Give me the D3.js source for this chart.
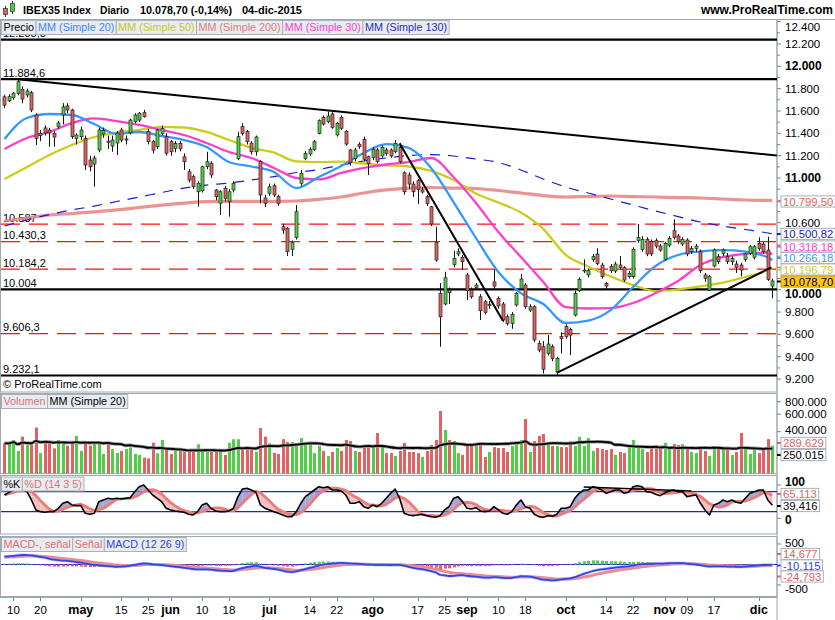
<!DOCTYPE html>
<html><head><meta charset="utf-8">
<script src="https://cdn.jsdelivr.net/npm/d3@7"></script>
<style>body{margin:0;background:#fff}svg{display:block;font-family:"Liberation Sans",Arial,sans-serif}</style>
</head><body><svg id="c" width="835" height="620"></svg>
<script>
// ---------------- DATA ----------------
const firstDay = "2015-04-08", lastDay = "2015-12-04", holidays = ["2015-05-01"];
const open = [11727,11690,11720,11758,11794,11743,11764,11564,11380,11448,11430,11400,11460,11564,11645,11609,11355,11370,11355,11161,11125,11251,11394,11330,11286,11313,11430,11340,11405,11504,11519,11585,11415,11325,11280,11400,11370,11325,11265,11310,11190,11056,11012,10877,10886,11101,11132,10893,10774,10908,10788,10893,11176,11460,11415,11313,11235,11146,10821,10863,10931,10833,10564,10550,10362,10469,10953,11176,11215,11257,11400,11543,11504,11573,11385,11543,11415,11251,11176,11302,11346,11190,11185,11251,11197,11251,11251,11235,11275,11047,11027,10946,10976,10875,10833,10743,10421,9968,9872,9997,10227,10320,10290,10132,9997,10020,9937,9892,9860,10070,9923,9872,9758,9699,9863,10012,10042,9818,9848,9520,9490,9430,9490,9266,9580,9670,9645,9773,9991,10170,10132,10272,10320,10221,10057,10210,10167,10221,10197,10117,10117,10440,10360,10451,10430,10439,10391,10272,10400,10528,10481,10409,10445,10340,10370,10340,10132,9997,10212,10296,10325,10296,10251,10230,10221,10272,10326,10290,10415,10409,10355,10033];
const high = [11745,11750,11770,11884.6,11820,11800,11780,11580,11430,11470,11450,11420,11510,11670,11670,11620,11400,11460,11380,11200,11200,11450,11450,11380,11380,11420,11450,11380,11530,11580,11590,11610,11440,11340,11440,11470,11400,11340,11330,11330,11220,11080,11030,10970,11110,11235,11150,10900,10890,10930,10900,10970,11415,11490,11430,11330,11380,11160,10850,10950,10950,10850,10590,10560,10440,10758,11072,11240,11275,11340,11525,11560,11594,11590,11500,11560,11430,11260,11270,11320,11370,11200,11275,11270,11290,11270,11265,11340,11310,11060,11050,10970,10990,10920,10850,10750,10564,10060,10161,10020,10349,10370,10310,10150,10020,10060,9960,9910,9900,10182,9940,9890,9780,9800,9980,10141,10060,9870,9860,9545,9540,9594,9510,9400,9620,9690,9660,9990,10110,10272,10190,10320,10371,10240,10070,10230,10250,10302,10210,10170,10380,10588,10480,10470,10450,10460,10410,10430,10480,10630,10500,10470,10460,10390,10410,10360,10150,10130,10370,10320,10370,10330,10300,10260,10240,10330,10400,10400,10469,10430,10475,10100];
const low = [11627,11680,11700,11740,11669,11720,11590,11295,11330,11380,11280,11280,11440,11480,11580,11350,11300,11340,11072,11060,10922,11230,11360,11260,11235,11206,11320,11300,11390,11490,11500,11540,11300,11220,11260,11380,11200,11200,11230,11240,11072,10960,10900,10743,10870,11080,11000,10800,10669,10790,10654,10870,11160,11380,11300,11210,11200,10773,10740,10840,10830,10750,10500,10302,10302,10450,10930,11160,11195,11240,11390,11470,11490,11440,11370,11430,11290,11110,11150,11260,11150,11027,11160,11130,11180,11200,11180,11220,11130,10850,10900,10830,10767,10860,10750,10570,10250,9490,9860,9872,10200,10300,10176,9908,9920,10000,9729,9780,9830,10010,9830,9710,9680,9650,9850,10000,9830,9800,9530,9440,9250,9410,9360,9232.1,9430,9560,9415,9760,9980,10150,10110,10250,10220,10100,10000,10150,10150,10180,10070,10100,10100,10420,10340,10300,10300,10370,10340,10260,10380,10450,10410,10390,10300,10320,10340,10150,10070,9990,10200,10230,10300,10230,10220,10150,10120,10250,10310,10270,10350,10320,10080,9923];
const close = [11652,11728,11760,11862,11707,11779,11609,11355,11400,11403,11403,11367,11492,11636,11609,11370,11385,11430,11116,11100,11179,11430,11425,11320,11340,11403,11340,11350,11519,11564,11580,11550,11325,11250,11430,11445,11222,11235,11310,11265,11146,10982,10922,10953,11101,11146,11027,10833,10877,10818,10877,10953,11370,11400,11325,11235,11367,10848,10773,10922,10848,10773,10534,10340,10421,10698,11042,11221,11257,11325,11513,11483,11555,11454,11490,11445,11304,11137,11251,11280,11167,11130,11257,11146,11275,11221,11197,11310,11146,10877,10946,10877,10899,10893,10773,10588,10266,9758,10107,9973,10281,10340,10251,9991,9937,10042,9812,9798,9870,10033,9854,9729,9699,9779,9968,10096,9848,9848,9550,9460,9288,9514,9386,9386,9562,9580,9594,9968,10093,10176,10170,10296,10236,10117,10033,10170,10230,10200,10087,10147,10362,10469,10450,10320,10320,10391,10355,10415,10460,10469,10430,10451,10320,10370,10390,10170,10102,10117,10355,10251,10355,10251,10281,10200,10176,10320,10385,10385,10370,10340,10093,10078.7];
const volume = [306,306,330,256,357,294,294,440,245,330,306,272,330,306,290,310,362,256,318,290,318,310,239,299,268,245,256,268,278,239,234,220,216,310,243,330,266,239,272,262,252,256,252,299,262,262,262,252,252,234,310,336,336,272,282,282,252,435,357,306,245,239,337,315,315,308,345,308,294,244,287,256,228,250,274,256,330,322,256,250,294,287,287,388,287,244,244,228,256,308,250,250,244,223,256,294,330,646,416,330,322,244,234,294,294,308,315,223,250,280,274,274,250,287,308,330,536,250,322,362,379,315,287,287,280,280,322,287,355,287,345,256,274,268,262,268,234,250,244,280,330,274,268,250,274,294,274,308,274,300,294,300,268,250,244,287,256,228,268,274,274,262,234,250,388,280,239,274,244,262,337,289.629].map(v=>v*1000);
// moving averages read at every 5th session (plus the last one)
const maIdx = d3.range(0,171,5).concat([171]);
const ma20  = [11349,11537,11573,11564,11483,11394,11412,11376,11340,11278,11143,11103,11054,10910,11009,11107,11224,11304,11269,11090,10785,10463,10158,9970,9872,9702,9724,9818,10024,10212,10311,10342,10355,10342,10288,10266.18];
const ma30  = [11260,11358,11412,11492,11533,11510,11475,11430,11385,11313,11233,11179,11090,11000,10987,11045,11090,11121,11143,11179,11009,10776,10517,10293,10069,9845,9832,9836,9881,9970,10078,10221,10293,10320,10333,10318.18];
const ma50  = [10991,11098,11206,11295,11367,11407,11430,11457,11452,11412,11340,11269,11228,11148,11143,11146,11130,11114,11103,11063,10982,10861,10781,10691,10543,10311,10208,10118,10042,9988,10002,10029,10064,10114,10176,10196.79];
const ma130 = [10570,10624,10673,10714,10749,10790,10830,10870,10910,10937,10955,10982,11013,11049,11076,11116,11152,11179,11201,11210,11197,11170,11139,11072,10991,10919,10866,10812,10758,10705,10655,10606,10570,10539,10508,10500.82];
const ma200 = [10615,10642,10669,10682,10696,10714,10736,10758,10776,10788,10790,10790,10790,10794,10808,10830,10866,10893,10910,10915,10910,10906,10888,10866,10843,10830,10834,10839,10834,10830,10825,10821,10812,10803,10800,10799.5];
const stochK = [70,78,85,95,85,80,55,25,20,18,20,20,30,45,50,40,38,38,15,12,15,50,55,60,58,60,58,60,62,80,95,100,85,70,60,50,30,25,22,20,18,12,10,20,40,45,30,22,20,20,22,30,65,88,90,85,78,40,30,25,20,15,10,5,5,20,45,65,75,85,95,92,95,85,85,82,70,45,45,50,35,30,40,35,45,60,75,88,60,15,10,8,10,12,8,5,3,8,25,35,60,65,50,30,28,32,22,20,22,35,25,15,12,20,40,55,35,30,12,5,3,8,6,12,30,30,35,60,75,85,85,95,92,85,75,80,85,85,75,78,95,98,95,80,78,72,68,75,82,85,80,80,65,68,70,45,25,10,40,45,55,50,55,48,45,60,75,80,85,85,55,39.416];
const macd = [190,200,210,225,232,230,222,205,185,165,140,120,105,95,90,75,60,45,25,5,-10,-20,-30,-40,-48,-55,-50,-45,-30,-10,10,25,20,5,-5,-10,-25,-40,-55,-65,-80,-95,-110,-120,-120,-118,-125,-140,-150,-155,-160,-155,-120,-90,-65,-45,-30,-55,-80,-95,-110,-125,-150,-175,-185,-170,-140,-110,-80,-55,-25,-5,15,25,35,40,35,25,20,15,5,-5,-5,-10,-10,-10,-12,-8,-10,-30,-55,-80,-100,-115,-135,-160,-190,-250,-265,-280,-275,-265,-260,-275,-290,-295,-310,-320,-320,-310,-315,-325,-330,-325,-310,-285,-290,-295,-320,-345,-370,-375,-385,-380,-365,-350,-340,-310,-270,-230,-195,-160,-135,-120,-105,-90,-75,-62,-55,-45,-25,-5,10,15,18,20,20,25,30,35,35,35,20,10,0,-15,-35,-50,-45,-48,-45,-50,-52,-55,-58,-50,-40,-30,-20,-12,-8,-10.115];
const signalSeed = 175;
// horizontal levels and trend lines
const levels = [
  {v:12238.8, t:"12.238,8", kind:"solid"},
  {v:11884.6, t:"11.884,6", kind:"solid"},
  {v:10587,   t:"10.587",   kind:"dash"},
  {v:10430.3, t:"10.430,3", kind:"dash"},
  {v:10184.2, t:"10.184,2", kind:"dash"},
  {v:10004,   t:"10.004",   kind:"solid"},
  {v:9606.3,  t:"9.606,3",  kind:"dash"},
  {v:9232.1,  t:"9.232,1",  kind:"solid"}];
const trendLines = [[3,11884.6,172,11201],[88,11311,111,9722],[123,9255,170.8,10200]];
const stochTrend = [129,94,153,82];
const tickDates = ["2015-04-10","2015-04-20","2015-05-04","2015-05-15","2015-05-25","2015-06-01","2015-06-10","2015-06-18","2015-07-01","2015-07-14","2015-07-22","2015-08-03","2015-08-17","2015-08-25","2015-09-01","2015-09-10","2015-09-18","2015-10-01","2015-10-14","2015-10-22","2015-11-02","2015-11-09","2015-11-17","2015-12-01"];
const tickText  = ["10","20","may","15","25","jun","10","18","jul","14","22","ago","17","25","sep","10","18","oct","14","22","nov","09","17","dic"];

// ---------------- SETUP ----------------
const fmt = d3.timeFormat("%Y-%m-%d"), parse = d3.timeParse("%Y-%m-%d");
const dates = d3.timeDay.range(parse(firstDay), d3.timeDay.offset(parse(lastDay),1))
  .filter(d => d.getDay()!==0 && d.getDay()!==6 && !holidays.includes(fmt(d)));
const N = dates.length;
const idx = d3.range(N);

const svg = d3.select("#c");
const AX = 777;
const x = d3.scaleLinear().domain([-1, N-1]).range([0, 772.3]);
const yP = d3.scaleLinear().domain([9200,12400]).range([379.1,21.6]);
const yV = d3.scaleLog().domain([154000,934000]).range([473,395]);
const yS = d3.scaleLinear().domain([0,100]).range([518.3,485]);
const yM = d3.scaleLinear().domain([-500,500]).range([585,544]);
const P = {main:[19.5,392], vol:[393.5,473.5], sto:[475.5,534], mac:[536.5,596.5]};
const borderC = "#9ea8b0";
const GREEN = "#4fcf45", RED = "#e06262";

const defs = svg.append("defs");
Object.entries(P).forEach(([k,[t,b]])=>{
  defs.append("clipPath").attr("id","clip-"+k).append("rect").attr("x",1).attr("y",t).attr("width",AX-1).attr("height",b-t);
});
defs.append("clipPath").attr("id","clip-below-legend").append("rect").attr("x",0).attr("y",34.6).attr("width",200).attr("height",20);

// frames
svg.append("line").attr("x1",0).attr("x2",835).attr("y1",19.5).attr("y2",19.5).attr("stroke",borderC);
Object.values(P).forEach(([t,b])=>{
  svg.append("rect").attr("x",0.5).attr("y",t).attr("width",AX-0.5).attr("height",b-t).attr("fill","#fff").attr("stroke",borderC);
});
svg.append("line").attr("x1",AX).attr("x2",AX).attr("y1",19.5).attr("y2",620).attr("stroke",borderC);
svg.append("line").attr("x1",0).attr("x2",AX).attr("y1",597.5).attr("y2",597.5).attr("stroke",borderC);

// header
const hdr = svg.append("g");
hdr.append("line").attr("x1",5.5).attr("x2",5.5).attr("y1",6).attr("y2",17).attr("stroke","#333");
hdr.append("rect").attr("x",3.5).attr("y",8.5).attr("width",4).attr("height",6).attr("fill",RED).attr("stroke","#333").attr("stroke-width",0.7);
hdr.append("line").attr("x1",12.5).attr("x2",12.5).attr("y1",1).attr("y2",14).attr("stroke","#333");
hdr.append("rect").attr("x",10.5).attr("y",3.5).attr("width",4).attr("height",8).attr("fill",GREEN).attr("stroke","#333").attr("stroke-width",0.7);
[["IBEX35 Index",23,68],["Diario",100,29],["10.078,70 (-0,14%)",140,92],["04-dic-2015",242,60]].forEach(([t,xx,w])=>{
  hdr.append("text").attr("x",xx).attr("y",14).attr("font-size",11.5).attr("font-weight","bold").attr("fill","#000")
    .attr("textLength",w).attr("lengthAdjust","spacingAndGlyphs").text(t);
});
svg.append("text").attr("x",833).attr("y",14).attr("text-anchor","end").attr("font-size",12).attr("font-weight","bold").text("www.ProRealTime.com");

// ---------------- MAIN PANEL ----------------
const gm = svg.append("g").attr("clip-path","url(#clip-main)");
levels.forEach((l,k)=>{
  const yy = yP(l.v);
  gm.append("line").attr("x1",1).attr("x2",AX).attr("y1",yy).attr("y2",yy)
    .attr("stroke", l.kind==="solid" ? "#000" : "#ff1010")
    .attr("stroke-width", l.kind==="solid" ? 2.2 : 1.3)
    .attr("stroke-dasharray", l.kind==="solid" ? null : "19,9");
  const tx = (k===0 ? svg.append("text").attr("clip-path","url(#clip-below-legend)") : gm.append("text"));
  tx.attr("x",3).attr("y",yy-2.5).attr("font-size",11).attr("fill","#000").text(l.t);
});

function maLine(vals, color, w, dash, op){
  const line = d3.line().x((d,k)=>x(maIdx[k])).y(d=>yP(d)).curve(d3.curveMonotoneX);
  gm.append("path").attr("d",line(vals)).attr("fill","none").attr("stroke",color)
    .attr("stroke-width",w).attr("stroke-dasharray",dash).attr("opacity",op||1).attr("stroke-linejoin","round");
}
maLine(ma200,"#e68080",3.2,null,0.85);
maLine(ma130,"#1a1acc",1.2,"10,8");
maLine(ma50,"#cccc1a",2.3);
maLine(ma30,"#ff3dcc",2.3);
maLine(ma20,"#3399ff",2.3);

// candles
const cx = i => Math.round(x(i))+0.5;
gm.selectAll("line.wick").data(idx).join("line").attr("class","wick")
  .attr("x1",cx).attr("x2",cx).attr("y1",i=>yP(high[i])).attr("y2",i=>yP(low[i]))
  .attr("stroke","#111").attr("stroke-width",1);
gm.selectAll("rect.body").data(idx).join("rect").attr("class","body")
  .attr("x",i=>cx(i)-1.5).attr("width",3)
  .attr("y",i=>yP(Math.max(open[i],close[i])))
  .attr("height",i=>Math.max(1,Math.abs(yP(open[i])-yP(close[i]))))
  .attr("fill",i=>close[i]>=open[i]?GREEN:RED).attr("stroke","#222").attr("stroke-width",0.7);

// trend lines
trendLines.forEach(([i1,p1,i2,p2])=>{
  gm.append("line").attr("x1",x(i1)).attr("y1",yP(p1)).attr("x2",x(i2)).attr("y2",yP(p2))
    .attr("stroke","#000").attr("stroke-width",2);
});
svg.append("text").attr("x",3).attr("y",388).attr("font-size",11).text("© ProRealTime.com");

// legend helper
function legend(y, items){
  let xx = 1.5;
  items.forEach(([t,c])=>{
    const g = svg.append("g");
    const r = g.append("rect");
    const tx = g.append("text").attr("x",xx+2).attr("y",y+10.5).attr("font-size",10.8).attr("fill",c).text(t);
    const w = tx.node().getComputedTextLength()+4;
    r.attr("x",xx).attr("y",y).attr("width",w).attr("height",14).attr("fill","#e8ecf0").attr("stroke","#a8b2ba");
    xx += w;
  });
}
legend(20.5,[["Precio","#000"],["MM (Simple 20)","#3d86ff"],["MM (Simple 50)","#c8c81e"],["MM (Simple 200)","#e07a7a"],["MM (Simple 30)","#ff40cc"],["MM (Simple 130)","#2a2ac0"]]);

// right axis helpers
function tick(y, len){ svg.append("line").attr("x1",AX).attr("x2",AX+len).attr("y1",y).attr("y2",y).attr("stroke","#7a848c"); }
function axLabel(y, t, bold){
  svg.append("text").attr("x",785).attr("y",y).attr("dy","0.35em").attr("font-size",bold?12:11.5)
    .attr("font-weight",bold?"bold":null).attr("fill","#000").text(t);
}
function valBox(cy, t, color, bg, stroke, mark){
  if(mark) svg.append("line").attr("x1",AX).attr("x2",AX+4).attr("y1",cy).attr("y2",cy).attr("stroke",mark).attr("stroke-width",2);
  const g = svg.append("g");
  const r = g.append("rect");
  const tx = g.append("text").attr("x",783).attr("y",cy).attr("dy","0.36em").attr("font-size",11.3).attr("fill",color).text(t);
  const w = tx.node().getComputedTextLength()+4;
  r.attr("x",781).attr("y",cy-5.6).attr("width",w).attr("height",11.2).attr("fill",bg||"#fff").attr("stroke",stroke||"#a8b2ba");
}
const nf = d3.format(",.0f");
const es = s => s.replace(/,/g,".");
const hiddenMain = [10800,10400,10200];
d3.range(9200,12401,100).forEach(v=>{
  const yy = yP(v);
  tick(yy, v%200===0?4:3);
  if(v%200===0 && !hiddenMain.includes(v)) axLabel(v===10000?293.5:Math.max(yy,27), es(nf(v)), v%1000===0);
});
valBox(201.5,"10.799,50","#e06060",null,null,"#e68080");
valBox(234,"10.500,82","#1a1acc",null,null,"#1a1acc");
valBox(246.5,"10.318,18","#ff3dcc",null,null,"#ff3dcc");
valBox(258,"10.266,18","#3399ff",null,null,"#3399ff");
valBox(269.5,"10.196,79","#c8c81e",null,null,"#cccc1a");
valBox(281.5,"10.078,70","#000","#ffc510","#c89a00","#000");

// ---------------- VOLUME ----------------
const gv = svg.append("g").attr("clip-path","url(#clip-vol)");
gv.selectAll("rect").data(idx).join("rect")
  .attr("x",i=>cx(i)-1.5).attr("width",3).attr("y",i=>yV(volume[i])).attr("height",i=>473.5-yV(volume[i]))
  .attr("fill",i=>close[i]>=open[i]?GREEN:RED);
const volMA = idx.map(i=>d3.mean(volume.slice(Math.max(0,i-19),i+1)));
const vline = d3.line().x((d,i)=>x(i)).y(d=>yV(d)).curve(d3.curveMonotoneX);
gv.append("path").attr("d",vline(volMA)).attr("fill","none").attr("stroke","#999").attr("stroke-width",3.5);
gv.append("path").attr("d",vline(volMA)).attr("fill","none").attr("stroke","#000").attr("stroke-width",1.8);
legend(394.5,[["Volumen","#e07070"],["MM (Simple 20)","#000"]]);
[[800000,"800.000"],[600000,"600.000"],[400000,"400.000"]].forEach(([v,t])=>{tick(yV(v),4); axLabel(v===400000?yV(v)-1.5:yV(v),t);});
valBox(443,"289.629","#e06060",null,null,"#e06060");
valBox(455,"250.015","#000",null,null,"#000");

// ---------------- STOCHASTIC ----------------
const gs = svg.append("g").attr("clip-path","url(#clip-sto)");
const stochD = idx.map(i=>d3.mean(stochK.slice(Math.max(0,i-4),i+1)));
[80,20].forEach(v=>gs.append("line").attr("x1",1).attr("x2",AX).attr("y1",yS(v)).attr("y2",yS(v)).attr("stroke","#2222cc").attr("stroke-width",1.2));
for(let i=0;i<N-1;i++){
  const a1=stochK[i]-stochD[i], a2=stochK[i+1]-stochD[i+1];
  const seg=(t0,t1)=>{
    const lerp=(arr,t)=>arr[i]+(arr[i+1]-arr[i])*t;
    return [[x(i+t0),yS(lerp(stochK,t0))],[x(i+t1),yS(lerp(stochK,t1))],[x(i+t1),yS(lerp(stochD,t1))],[x(i+t0),yS(lerp(stochD,t0))]];
  };
  const col=s=>s>=0?"#8a8ac6":"#f3aaaa";
  if(a1*a2<0){
    const t=a1/(a1-a2);
    gs.append("polygon").attr("points",seg(0,t).join(" ")).attr("fill",col(a1)).attr("opacity",0.75);
    gs.append("polygon").attr("points",seg(t,1).join(" ")).attr("fill",col(a2)).attr("opacity",0.75);
  } else {
    gs.append("polygon").attr("points",seg(0,1).join(" ")).attr("fill",col(a1+a2)).attr("opacity",0.75);
  }
}
const sline = d3.line().x((d,i)=>x(i)).y(d=>yS(d));
gs.append("path").attr("d",sline(stochD)).attr("fill","none").attr("stroke","#ec7c7c").attr("stroke-width",2.8).attr("stroke-linejoin","round");
gs.append("path").attr("d",sline(stochK)).attr("fill","none").attr("stroke","#000").attr("stroke-width",1.6).attr("stroke-linejoin","round");
gs.append("line").attr("x1",x(stochTrend[0])).attr("y1",yS(stochTrend[1])).attr("x2",x(stochTrend[2])).attr("y2",yS(stochTrend[3])).attr("stroke","#000").attr("stroke-width",1.5);
legend(477,[["%K","#000"],["%D (14 3 5)","#e07070"]]);
tick(yS(100),4); axLabel(481.5,"100",true);
tick(yS(0),4); axLabel(519.5,"0",true);
valBox(494,"65,113","#e06060",null,null,"#e06060");
valBox(506,"39,416","#000",null,null,"#000");

// ---------------- MACD ----------------
const gc = svg.append("g").attr("clip-path","url(#clip-mac)");
const signal = [];
macd.forEach((m,i)=>signal.push(i===0?signalSeed:signal[i-1]+0.2*(m-signal[i-1])));
const hist = macd.map((m,i)=>m-signal[i]);
gc.append("line").attr("x1",1).attr("x2",AX).attr("y1",yM(0)).attr("y2",yM(0)).attr("stroke","#2222cc").attr("stroke-width",1.2);
gc.selectAll("rect.h").data(idx).join("rect").attr("class","h")
  .attr("x",i=>cx(i)-1.5).attr("width",3)
  .attr("y",i=>Math.min(yM(0),yM(hist[i]))).attr("height",i=>Math.abs(yM(hist[i])-yM(0)))
  .attr("fill",i=>hist[i]>=0?GREEN:RED);
const mline = d3.line().x((d,i)=>x(i)).y(d=>yM(d)).curve(d3.curveMonotoneX);
gc.append("path").attr("d",mline(signal)).attr("fill","none").attr("stroke","#f08a8a").attr("stroke-width",3);
gc.append("path").attr("d",mline(macd)).attr("fill","none").attr("stroke","#9aa4ff").attr("stroke-width",3.2).attr("opacity",0.6);
gc.append("path").attr("d",mline(macd)).attr("fill","none").attr("stroke","#3344e0").attr("stroke-width",1.8);
legend(537.5,[["MACD-, señal","#e07070"],["Señal","#e07070"],["MACD (12 26 9)","#3344e0"]]);
tick(yM(500),4); axLabel(542.5,"500");
tick(yM(-500),4); axLabel(588.5,"-500");
valBox(554,"14,677","#e06060",null,null,"#e06060");
valBox(565.5,"-10,115","#3344e0",null,null,"#3344e0");
valBox(576.5,"-24,793","#e06060",null,null,"#e06060");

// ---------------- X AXIS ----------------
const dateIndex = new Map(dates.map((d,i)=>[fmt(d),i]));
tickDates.forEach((d,k)=>{
  const i = dateIndex.get(d);
  const xx = x(i);
  const isMonth = /[a-z]/.test(tickText[k]);
  svg.append("line").attr("x1",Math.round(xx)+0.5).attr("x2",Math.round(xx)+0.5).attr("y1",597.5).attr("y2",601).attr("stroke","#7a848c");
  svg.append("text").attr("x",xx).attr("y",614).attr("text-anchor","middle")
    .attr("font-size",isMonth?12.5:11.5).attr("font-weight",isMonth?"bold":null).attr("fill","#000").text(tickText[k]);
});
</script></body></html>
